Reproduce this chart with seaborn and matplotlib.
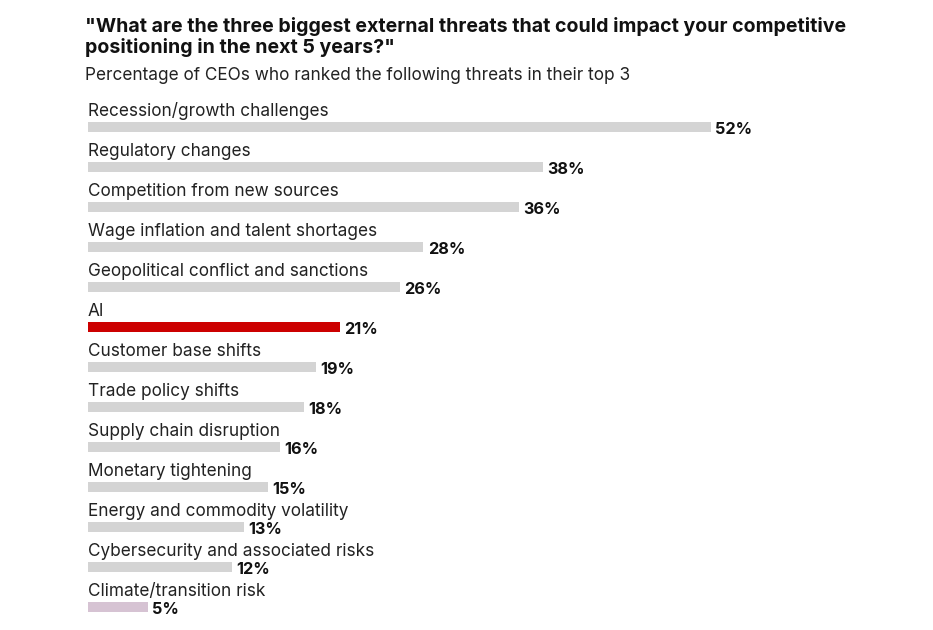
import matplotlib
matplotlib.use("Agg")
import matplotlib.pyplot as plt
import seaborn as sns
import pandas as pd

categories = ["Recession/growth challenges", "Regulatory changes", "Competition from new sources",
              "Wage inflation and talent shortages", "Geopolitical conflict and sanctions", "AI",
              "Customer base shifts", "Trade policy shifts", "Supply chain disruption",
              "Monetary tightening", "Energy and commodity volatility",
              "Cybersecurity and associated risks", "Climate/transition risk"]
values = [52, 38, 36, 28, 26, 21, 19, 18, 16, 15, 13, 12, 5]
colors = ["#d4d4d4"] * 5 + ["#cc0000"] + ["#d4d4d4"] * 6 + ["#d6c3d3"]

sns.set_theme(style="white")
plt.rcParams['font.family'] = ['Inter', 'DejaVu Sans']

df = pd.DataFrame({"cat": categories, "val": values})
fig = plt.figure(figsize=(9.33, 6.3), dpi=100)
ax = fig.add_axes([88/933, 1-627/630, 623/933, 520/630])
sns.barplot(data=df, x="val", y="cat", hue="cat", palette=colors, legend=False,
            width=0.25, ax=ax, orient="h", saturation=1, linewidth=0)
ax.set_xlim(0, 52)
ax.set_ylim(12.5, -0.5)
ax.axis("off")
for i, (c, v) in enumerate(zip(categories, values)):
    ax.text(0, i - 0.4, c, fontsize=12.4, color="#222222", va="center", ha="left")
    ax.text(v + 0.35, i + 0.05, f"{v}%", fontsize=11.7, fontweight="bold", color="#111111",
            va="center", ha="left")
fig.text(85/933, 1-37/630, '"What are the three biggest external threats that could impact your competitive\npositioning in the next 5 years?"',
         fontsize=14.1, fontweight="bold", va="center", ha="left", linespacing=1.1, color="#111111")
fig.text(85/933, 1-76/630, "Percentage of CEOs who ranked the following threats in their top 3",
         fontsize=12.4, va="center", ha="left", color="#222222")
fig.savefig("out.png", dpi=100)
